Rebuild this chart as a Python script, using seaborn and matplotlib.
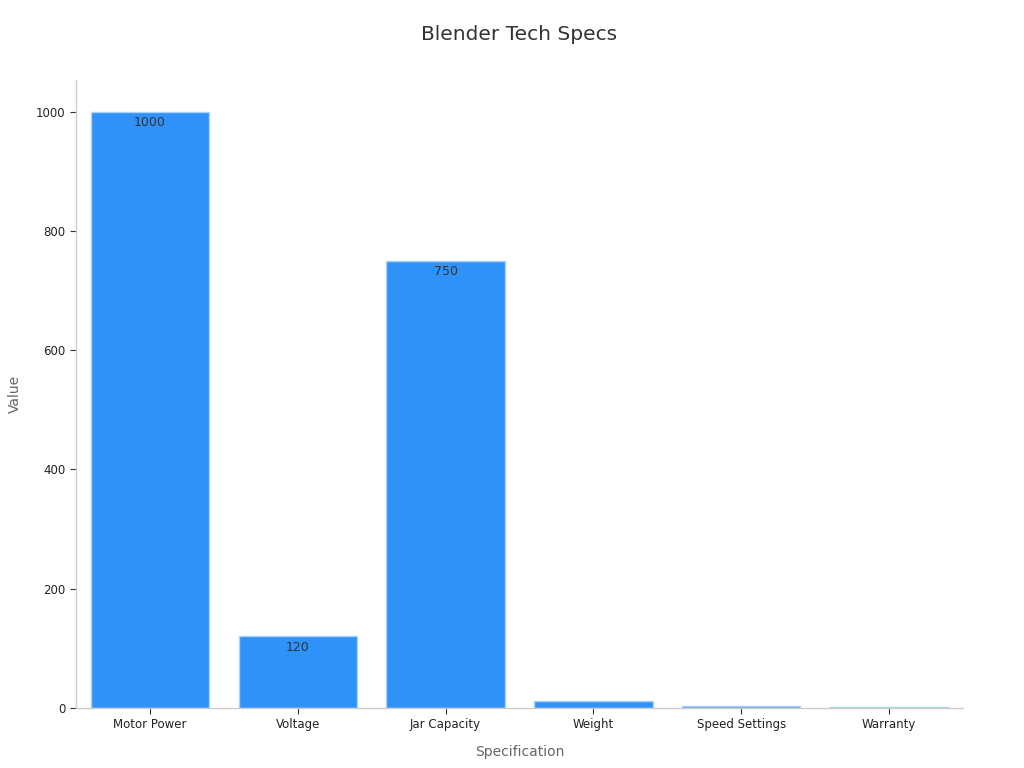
import matplotlib
matplotlib.use("Agg")
import matplotlib.pyplot as plt
import matplotlib.transforms as mtransforms
import seaborn as sns
import pandas as pd

categories = ["Motor Power", "Voltage", "Jar Capacity", "Weight", "Speed Settings", "Warranty"]
values = [1000, 120, 750, 12, 3, 2]

df = pd.DataFrame({"Specification": categories, "Value": values})

sns.set_theme(style="white")
plt.rcParams["font.family"] = ["DejaVu Sans"]

fig = plt.figure(figsize=(10.24, 7.68), dpi=100)
ax = fig.add_axes([76/1024, 60/768, 887/1024, 628/768])

sns.barplot(data=df, x="Specification", y="Value", color="#2e92f8", saturation=1,
            width=0.8, edgecolor="#a9d3fa", linewidth=1, ax=ax)

ax.set_xlim(-0.5, len(categories) - 0.5)
ax.set_ylim(0, 1053)

# Value labels sit just inside the top of each bar; labels of bars too short
# to hold them fall outside the plot area in the original and are not shown.
off = mtransforms.offset_copy(ax.transData, fig=fig, x=0, y=-3, units="points")
for i, v in enumerate(values):
    if v >= 30:
        ax.text(i, v, f"{v}", transform=off, ha="center", va="top", fontsize=9,
                color="#333333", clip_on=True)

ax.set_title("Blender Tech Specs", fontsize=14.5, color="#333333", pad=29)
ax.set_xlabel("Specification", fontsize=10, color="#666666", labelpad=10)
ax.set_ylabel("Value", fontsize=10, color="#666666", labelpad=10)

for s in ["top", "right"]:
    ax.spines[s].set_visible(False)
for s in ["left", "bottom"]:
    ax.spines[s].set_color("#cccccc")
    ax.spines[s].set_linewidth(1)

ax.tick_params(axis="both", which="both", length=4, width=0.8, color="#333333",
               labelsize=8.5, labelcolor="#222222", bottom=True, left=True)
ax.set_yticks([0, 200, 400, 600, 800, 1000])

fig.savefig("out.png", dpi=100)
